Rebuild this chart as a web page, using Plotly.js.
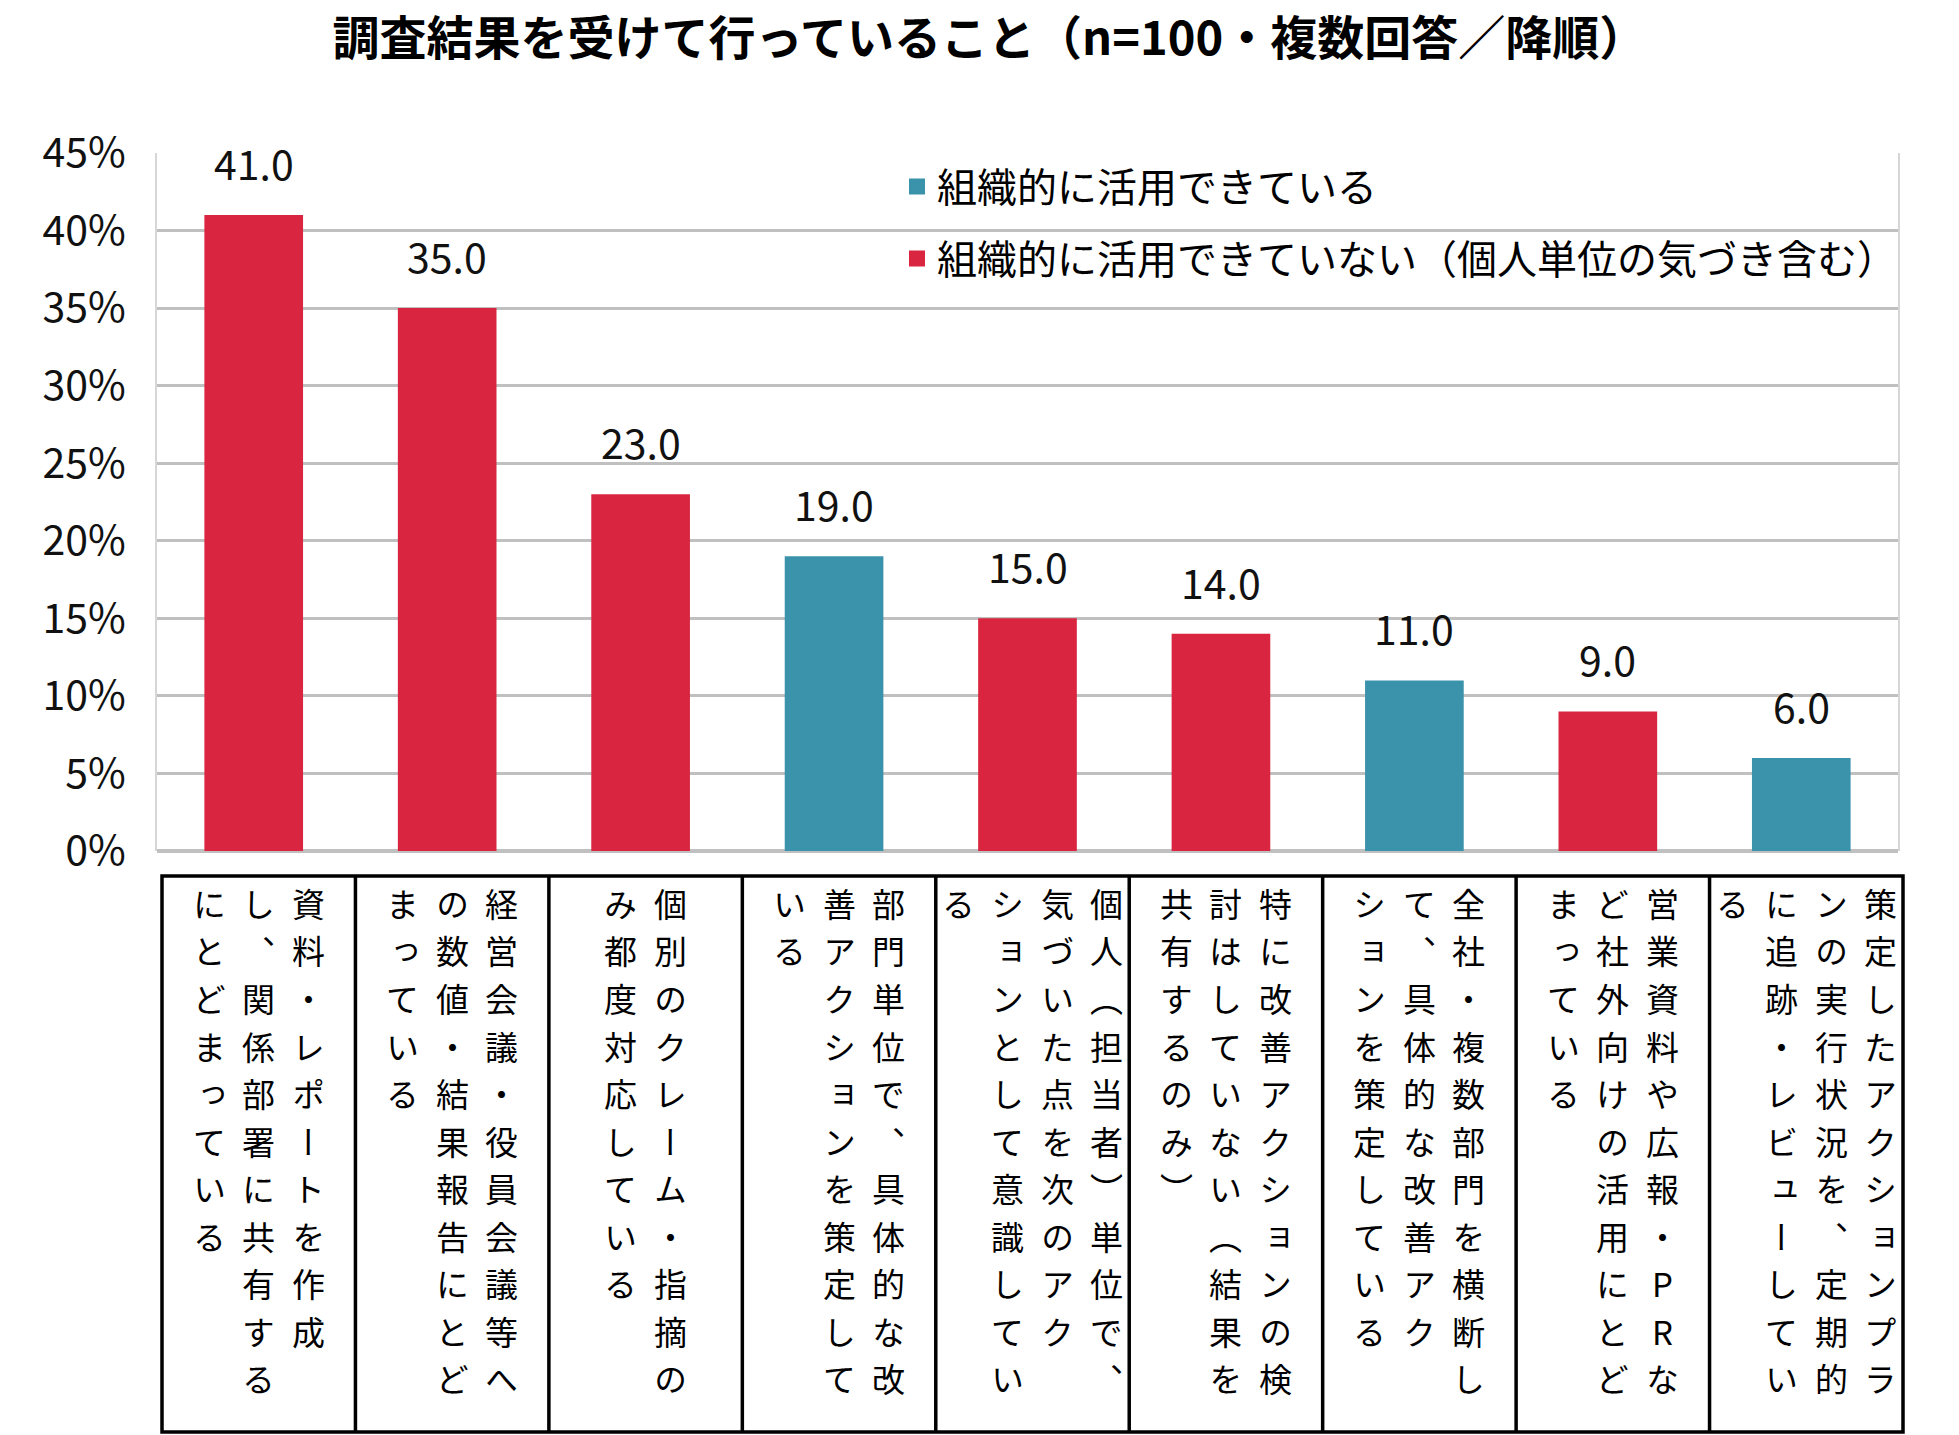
<!DOCTYPE html>
<html>
<head>
<meta charset="utf-8">
<script src="https://cdn.plot.ly/plotly-3.0.1.min.js"></script>
<style>
  html, body { margin: 0; padding: 0; background: #ffffff; }
  #chart { width: 1959px; height: 1435px; }
  /* vertical (tategaki) glyph forms for the table labels: 、 ー （ ） small kana */
  #chart .annotation-text { font-feature-settings: "vert" 1; }
</style>
</head>
<body>
<div id="chart"></div>
<script>
// ---------------- data ----------------
const chartTitle = '調査結果を受けて行っていること（n=100・複数回答／降順）';
const categories = [
  '資料・レポートを作成し、関係部署に共有するにとどまっている',
  '経営会議・役員会議等への数値・結果報告にとどまっている',
  '個別のクレーム・指摘のみ都度対応している',
  '部門単位で、具体的な改善アクションを策定している',
  '個人（担当者）単位で、気づいた点を次のアクションとして意識している',
  '特に改善アクションの検討はしていない（結果を共有するのみ）',
  '全社・複数部門を横断して、具体的な改善アクションを策定している',
  '営業資料や広報・PRなど社外向けの活用にとどまっている',
  '策定したアクションプランの実行状況を、定期的に追跡・レビューしている'
];
const values = [41.0, 35.0, 23.0, 19.0, 15.0, 14.0, 11.0, 9.0, 6.0];
const seriesNames = ['組織的に活用できている', '組織的に活用できていない（個人単位の気づき含む）'];
const seriesOfCategory = [1, 1, 1, 0, 1, 1, 0, 1, 0];
const seriesColors = ['#3A93AB', '#D9253F'];
const yTickValues = [0, 5, 10, 15, 20, 25, 30, 35, 40, 45];
const yTickLabels = ['0%', '5%', '10%', '15%', '20%', '25%', '30%', '35%', '40%', '45%'];

// ---------------- layout constants ----------------
const W = 1959, H = 1435;
const M = { l: 157, r: 61, t: 153, b: 584 };
const plotW = W - M.l - M.r;
const plotH = H - M.t - M.b;
const plotBottom = H - M.b;
const paperY = py => (plotBottom - py) / plotH;

const FONT = '"Noto Sans CJK JP", "Noto Sans", sans-serif';
const TABLE_DX = 5;            // table is drawn a few px right of the plot area
const TABLE_TOP = 876, TABLE_BOTTOM = 1432;
const COLS_MAX = 11, COL_SP = 49.5, ROW_SP = 47.5, ROW0 = 903, CHAR_FS = 33;

// ---------------- bar traces ----------------
const traces = seriesNames.map((name, s) => ({
  type: 'bar',
  name: name,
  showlegend: false,
  x: categories,
  y: values.map((v, i) => seriesOfCategory[i] === s ? v : null),
  marker: { color: seriesColors[s], line: { width: 0 } },
  width: 0.51,
  hoverinfo: 'x+y'
}));
// legend entries (square keys)
seriesNames.forEach((name, s) => {
  traces.push({
    type: 'scatter', mode: 'markers', name: name,
    legendgroup: 'g' + s,
    x: [null], y: [null],
    marker: { symbol: 'square', size: 18, color: seriesColors[s] },
    hoverinfo: 'skip'
  });
});

// ---------------- annotations ----------------
const annotations = [];
// value labels above bars
values.forEach((v, i) => {
  annotations.push({
    x: i, y: v, xref: 'x', yref: 'y',
    text: v.toFixed(1), showarrow: false,
    xanchor: 'center', yanchor: 'bottom', yshift: 21,
    font: { family: FONT, size: 41, color: '#111111' }
  });
});

// vertical (tategaki) category labels, written top-to-bottom, right-to-left
const noStart = '、。，．）」』ョッュャァィゥェォっゅゃょぁぃぅぇぉー';
function wrapColumns(str) {
  const chars = Array.from(str);
  const cols = [];
  let pos = 0;
  while (pos < chars.length) {
    let end = Math.min(pos + COLS_MAX, chars.length);
    while (end < chars.length && end - pos > 1 && noStart.includes(chars[end])) end--;
    cols.push(chars.slice(pos, end));
    pos = end;
  }
  return cols;
}

categories.forEach((cat, i) => {
  const cols = wrapColumns(cat);
  const n = cols.length;
  cols.forEach((col, j) => {
    const dx = TABLE_DX + ((n - 1) / 2 - j) * COL_SP;
    col.forEach((ch, r) => {
      annotations.push({
        x: i, xref: 'x', y: paperY(ROW0 + r * ROW_SP), yref: 'paper',
        text: ch, showarrow: false, xanchor: 'center', yanchor: 'middle',
        xshift: dx,
        font: { family: FONT, size: CHAR_FS, color: '#000000' }
      });
    });
  });
});

// ---------------- table shapes ----------------
const shapes = [];
const tx = k => k / categories.length + TABLE_DX / plotW;
shapes.push({
  type: 'rect', xref: 'paper', yref: 'paper',
  x0: tx(0), x1: tx(categories.length), y0: paperY(TABLE_TOP), y1: paperY(TABLE_BOTTOM),
  line: { color: '#000000', width: 3.5 }, fillcolor: 'rgba(0,0,0,0)', layer: 'above'
});
for (let k = 1; k < categories.length; k++) {
  shapes.push({
    type: 'line', xref: 'paper', yref: 'paper',
    x0: tx(k), x1: tx(k), y0: paperY(TABLE_TOP), y1: paperY(TABLE_BOTTOM),
    line: { color: '#000000', width: 3.5 }, layer: 'above'
  });
}

// ---------------- layout ----------------
const layout = {
  width: W, height: H,
  margin: M,
  paper_bgcolor: '#ffffff', plot_bgcolor: '#ffffff',
  font: { family: FONT, color: '#000000' },
  title: {
    text: chartTitle,
    x: 0.505, xanchor: 'center', xref: 'container',
    y: 1 - 39 / H, yanchor: 'middle', yref: 'container',
    font: { family: FONT, size: 47, weight: 700, color: '#000000' }
  },
  barmode: 'overlay',
  showlegend: true,
  legend: {
    x: (897 - M.l) / plotW, xanchor: 'left',
    y: paperY(154), yanchor: 'top',
    traceorder: 'grouped', tracegroupgap: 17,
    bgcolor: 'rgba(0,0,0,0)', borderwidth: 0,
    font: { family: FONT, size: 40, color: '#000000' }
  },
  xaxis: {
    type: 'category',
    categoryorder: 'array', categoryarray: categories,
    range: [-0.5, categories.length - 0.5],
    showticklabels: false, showgrid: false, zeroline: false,
    showline: false, ticks: '', fixedrange: true
  },
  yaxis: {
    range: [0, 45],
    tickmode: 'array',
    tickvals: yTickValues,
    ticktext: yTickLabels,
    tickfont: { family: FONT, size: 41, color: '#111111' },
    ticklabelstandoff: 21,
    ticks: '',
    showgrid: true, gridcolor: '#c0c0c0', gridwidth: 3,
    zeroline: true, zerolinecolor: '#c0c0c0', zerolinewidth: 4,
    showline: true, mirror: true, linecolor: '#d6d6d6', linewidth: 2,
    fixedrange: true
  },
  annotations: annotations,
  shapes: shapes
};

Plotly.newPlot('chart', traces, layout, { displayModeBar: false, staticPlot: true });
</script>
</body>
</html>
